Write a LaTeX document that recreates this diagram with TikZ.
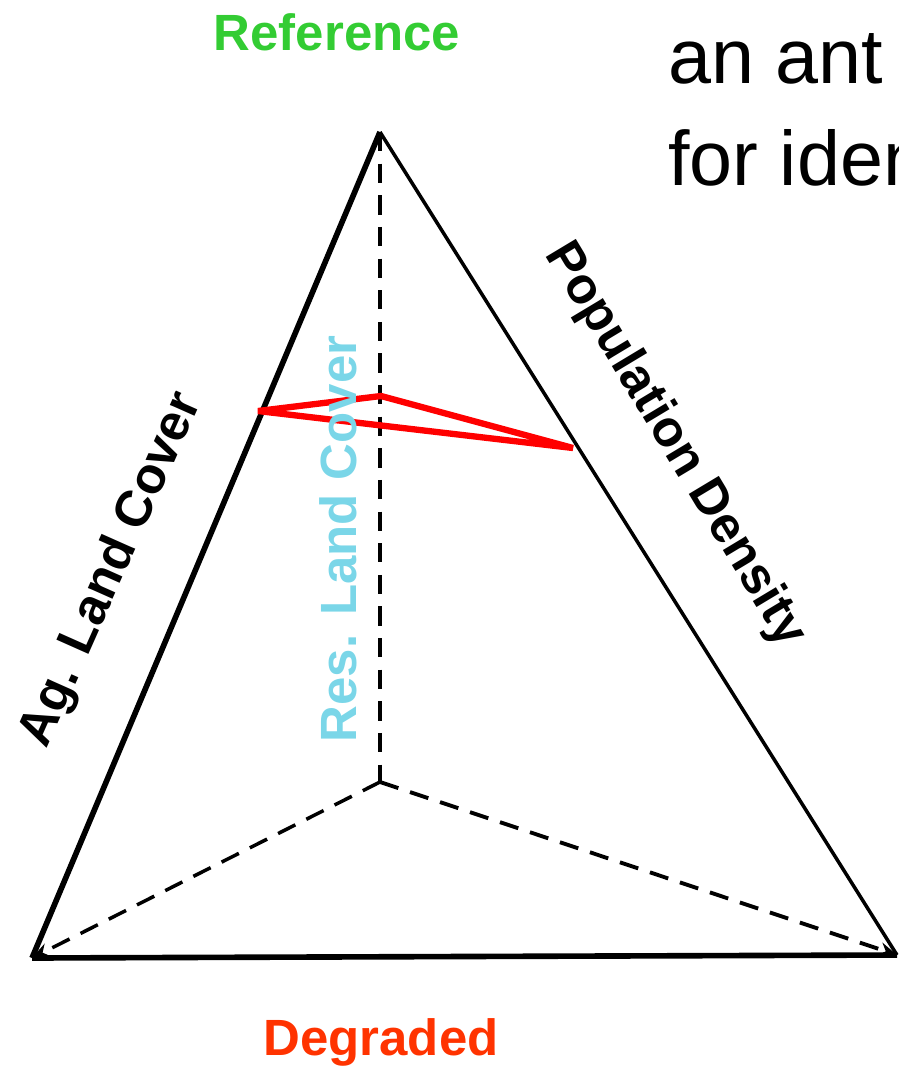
\documentclass[tikz,border=0pt]{standalone}
\usepackage{fontspec}
\setmainfont{Liberation Sans}
\usetikzlibrary{arrows.meta}
\definecolor{refgreen}{RGB}{51,204,51}
\definecolor{resblue}{RGB}{122,214,232}
\definecolor{degred}{RGB}{255,51,0}
\begin{document}
\begin{tikzpicture}[
    x=0.02cm, y=-0.02cm,
    axislabel/.style={
        font=\fontsize{29}{35}\selectfont\bfseries,
        inner sep=0pt
    },
    note/.style={
        font=\fontsize{44}{53}\selectfont,
        inner sep=0pt,
        anchor=base west
    },
    hidden/.style={
        dash pattern=on 11pt off 7pt,
        line width=2.6pt
    }
]

\useasboundingbox (0,0) rectangle (899,1066);

\coordinate (apex) at (380,132);
\coordinate (bl) at (32,958);
\coordinate (br) at (897,955);
\coordinate (back) at (380,782);

\coordinate (ag) at (258,411);
\coordinate (res) at (381,396);
\coordinate (pop) at (573,448);

% visible edges
\draw[line width=3.2pt] (bl) -- (apex);
\draw[line width=2pt] (apex) -- (br);
\draw[line width=3.2pt] (bl) -- (br);

% hidden edges
\draw[hidden] (apex) -- (back);
\draw[hidden, line width=2pt, -{Stealth[length=10pt,width=8pt]}] (back) -- (bl);
\draw[hidden, line width=2.2pt, -{Stealth[length=10pt,width=8pt]}] (back) -- (br);

% red triangle
\draw[red, line width=3.6pt, line join=bevel] (ag) -- (res) -- (pop) -- cycle;

\node[axislabel, refgreen, anchor=base] (reference) at (337,50) {Reference};
\node[axislabel, degred, anchor=base] (degraded) at (381,1055) {Degraded};
\node[axislabel, rotate=66] (agland) at (112,570) {Ag. Land Cover};
\node[axislabel, resblue, rotate=90] (resland) at (338,539) {Res. Land Cover};
\node[axislabel, rotate=-59] (popdens) at (675,445) {Population Density};

\node[note] (note1) at (668,83) {an ant};
\node[note] (note2) at (668,185) {for iden};

\end{tikzpicture}
\end{document}
